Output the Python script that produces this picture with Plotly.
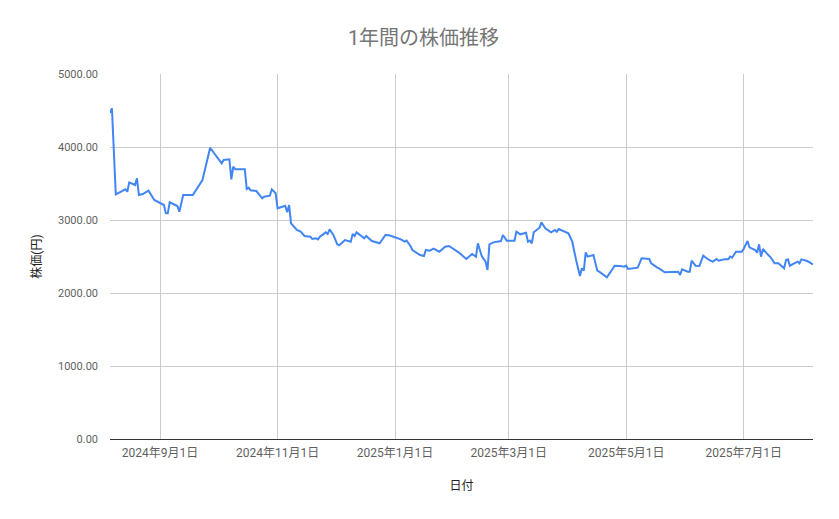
import plotly.graph_objects as go

# 株価データ
dates = [
    "2024-08-06", "2024-08-07", "2024-08-09", "2024-08-14", "2024-08-15", "2024-08-16",
    "2024-08-19", "2024-08-20", "2024-08-21", "2024-08-23", "2024-08-26", "2024-08-29",
    "2024-09-03", "2024-09-04", "2024-09-05", "2024-09-06", "2024-09-10", "2024-09-11",
    "2024-09-13", "2024-09-18", "2024-09-23", "2024-09-25", "2024-09-27",
    "2024-10-03", "2024-10-04", "2024-10-07", "2024-10-08", "2024-10-09", "2024-10-10",
    "2024-10-15", "2024-10-16", "2024-10-17", "2024-10-18", "2024-10-21", "2024-10-24",
    "2024-10-25", "2024-10-28", "2024-10-29", "2024-10-31",
    "2024-11-01", "2024-11-05", "2024-11-06", "2024-11-07", "2024-11-08", "2024-11-11",
    "2024-11-13", "2024-11-15", "2024-11-18", "2024-11-19", "2024-11-21", "2024-11-22",
    "2024-11-23", "2024-11-25", "2024-11-26", "2024-11-27", "2024-11-28", "2024-11-30",
    "2024-12-02", "2024-12-03", "2024-12-06", "2024-12-09", "2024-12-10", "2024-12-11",
    "2024-12-12", "2024-12-15", "2024-12-16", "2024-12-17", "2024-12-18", "2024-12-20",
    "2024-12-24", "2024-12-27", "2024-12-29",
    "2025-01-04", "2025-01-06", "2025-01-07", "2025-01-09", "2025-01-10", "2025-01-14",
    "2025-01-16", "2025-01-17", "2025-01-19", "2025-01-21", "2025-01-24", "2025-01-27",
    "2025-01-29",
    "2025-02-03", "2025-02-04", "2025-02-07", "2025-02-10", "2025-02-12", "2025-02-13",
    "2025-02-15", "2025-02-17", "2025-02-18", "2025-02-19", "2025-02-21", "2025-02-25",
    "2025-02-26", "2025-02-28",
    "2025-03-04", "2025-03-05", "2025-03-07", "2025-03-10", "2025-03-11", "2025-03-12",
    "2025-03-13", "2025-03-14", "2025-03-17", "2025-03-18", "2025-03-20", "2025-03-23",
    "2025-03-25", "2025-03-26", "2025-03-27",
    "2025-04-01", "2025-04-03", "2025-04-05", "2025-04-07", "2025-04-08", "2025-04-09",
    "2025-04-10", "2025-04-11", "2025-04-14", "2025-04-16", "2025-04-17", "2025-04-21",
    "2025-04-23", "2025-04-25", "2025-04-28", "2025-04-30",
    "2025-05-01", "2025-05-02", "2025-05-07", "2025-05-09", "2025-05-13", "2025-05-14",
    "2025-05-17", "2025-05-18", "2025-05-21", "2025-05-28", "2025-05-29", "2025-05-30",
    "2025-06-02", "2025-06-03", "2025-06-04", "2025-06-06", "2025-06-08", "2025-06-10",
    "2025-06-13", "2025-06-15", "2025-06-17", "2025-06-18", "2025-06-21", "2025-06-23",
    "2025-06-24", "2025-06-25", "2025-06-27", "2025-06-30",
    "2025-07-01", "2025-07-03", "2025-07-04", "2025-07-07", "2025-07-08", "2025-07-09",
    "2025-07-10", "2025-07-11", "2025-07-13", "2025-07-15", "2025-07-17", "2025-07-19",
    "2025-07-22", "2025-07-23", "2025-07-24", "2025-07-25", "2025-07-28", "2025-07-29",
    "2025-07-30", "2025-07-31",
    "2025-08-03", "2025-08-06",
]

prices = [
    4466, 4530, 3352, 3421, 3388, 3516,
    3479, 3571, 3342, 3356, 3402, 3274,
    3205, 3091, 3091, 3242, 3192, 3114,
    3342, 3342, 3548, 3753, 3990,
    3776, 3822, 3831, 3557, 3730, 3694,
    3694, 3425, 3443, 3406, 3397, 3297,
    3320, 3333, 3420, 3366,
    3160, 3196, 3105, 3205, 2955, 2863,
    2840, 2781, 2771, 2740, 2749, 2735,
    2771, 2817, 2831, 2808, 2872, 2794,
    2667, 2653, 2726, 2703, 2808, 2781,
    2831, 2771, 2749, 2781, 2762, 2712,
    2681, 2794, 2790,
    2735, 2703, 2717, 2644, 2589, 2521,
    2507, 2589, 2580, 2607, 2566, 2635,
    2644,
    2557, 2534, 2466, 2534, 2498, 2681,
    2507, 2429, 2315, 2667, 2694, 2712,
    2794, 2717,
    2717, 2840, 2804, 2826, 2703, 2717,
    2681, 2831, 2895, 2968, 2886, 2831,
    2863, 2840, 2877,
    2817, 2703, 2452, 2233, 2338, 2306,
    2557, 2498, 2521, 2306, 2292, 2215,
    2292, 2374, 2370, 2360,
    2374, 2329, 2347, 2475, 2466, 2407,
    2352, 2338, 2284, 2292, 2247, 2325,
    2292, 2292, 2443, 2374, 2370, 2511,
    2452, 2429, 2466, 2443, 2461, 2461,
    2498, 2484, 2566, 2566,
    2603, 2712, 2626, 2589, 2552, 2667,
    2498, 2603, 2543, 2489, 2407, 2407,
    2338, 2452, 2461, 2374, 2415, 2429,
    2407, 2461,
    2438, 2393,
]

tick_dates = ["2024-09-01", "2024-11-01", "2025-01-01", "2025-03-01", "2025-05-01", "2025-07-01"]
tick_labels = ["2024年9月1日", "2024年11月1日", "2025年1月1日", "2025年3月1日", "2025年5月1日", "2025年7月1日"]
y_ticks = [0, 1000, 2000, 3000, 4000, 5000]

font_family = "Roboto, 'Noto Sans CJK JP', sans-serif"

fig = go.Figure()
fig.add_trace(go.Scatter(x=dates, y=prices, mode="lines",
                         line=dict(color="#4285F4", width=2),
                         name="株価"))

# ページの余白(8px)を考慮してサイズを調整
fig.update_layout(
    width=831, height=511,
    paper_bgcolor="white", plot_bgcolor="white",
    font=dict(family=font_family, color="#444444"),
    title=dict(text="1年間の株価推移", x=0.5, xanchor="center", y=0.941, yanchor="middle",
               font=dict(size=20, color="#757575")),
    margin=dict(l=102, r=26, t=66, b=80),
    showlegend=False,
)

fig.update_xaxes(
    range=[dates[0], dates[-1]],
    tickvals=tick_dates, ticktext=tick_labels,
    tickfont=dict(size=12, color="#5f5f5f"),
    ticklabelstandoff=3,
    showgrid=True, gridcolor="#cccccc", gridwidth=1,
    showline=True, linecolor="#333333", linewidth=1,
    ticks="", zeroline=False,
    title=dict(text="日付", font=dict(size=12, color="#222222"), standoff=22),
)

fig.update_yaxes(
    range=[0, 5000],
    tickvals=y_ticks, tickformat=".2f",
    tickfont=dict(size=11, color="#5f5f5f"),
    ticklabelstandoff=11,
    showgrid=True, gridcolor="#cccccc", gridwidth=1,
    zeroline=False, showline=False, ticks="",
    title=dict(text="株価(円)", font=dict(size=12, color="#222222"), standoff=13),
)

fig.write_html("out.html")
